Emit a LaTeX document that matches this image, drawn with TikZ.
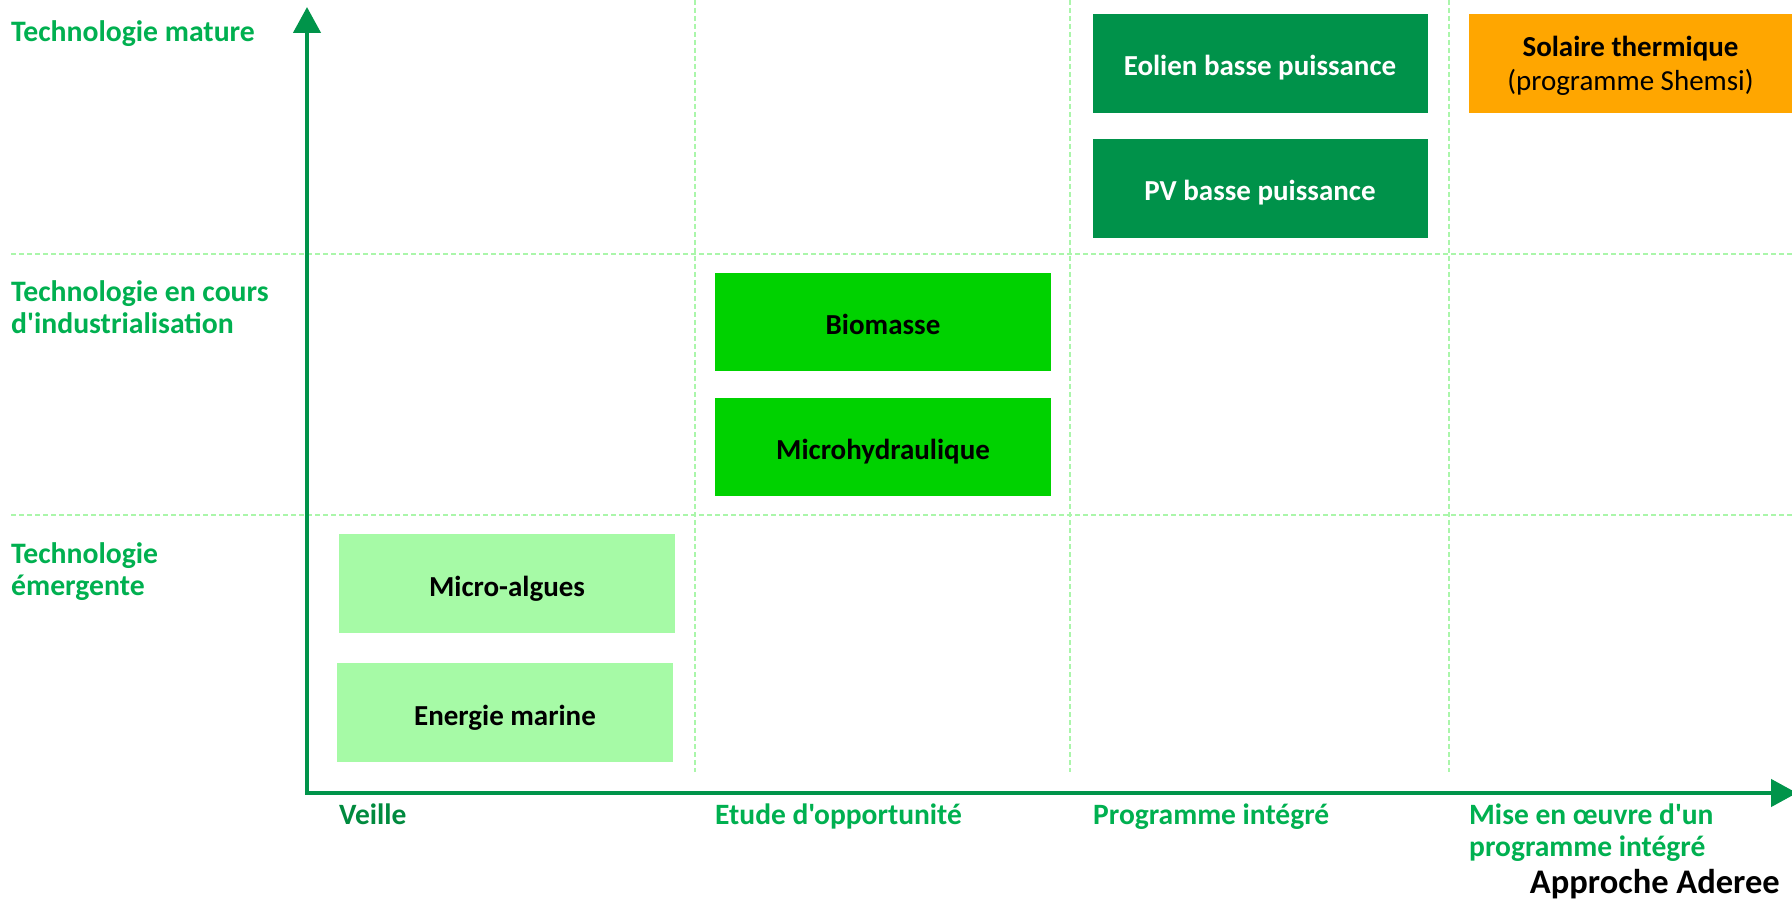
\documentclass[tikz,border=0pt]{standalone}
\usepackage{fontspec}
\setmainfont{Carlito}[Ligatures=TeXOff]
\usetikzlibrary{arrows.meta}
\definecolor{axisgreen}{RGB}{0,148,74}
\definecolor{darkbox}{RGB}{0,146,74}
\definecolor{labelgreen}{RGB}{0,176,80}
\definecolor{veillegreen}{RGB}{0,138,62}
\definecolor{brightbox}{RGB}{0,210,0}
\definecolor{lightbox}{RGB}{166,250,166}
\definecolor{orangebox}{RGB}{255,166,0}
\definecolor{gridgreen}{RGB}{170,246,170}
\tikzset{
  txt/.style={font=\fontsize{29}{32}\selectfont\bfseries},
  box/.style={rectangle, inner sep=0pt, txt, align=center, text height=25pt, text depth=0pt},
  rowlabel/.style={font=\fontsize{29.7}{32}\selectfont\bfseries, text=labelgreen, anchor=base west, inner sep=0pt, align=left},
  collabel/.style={font=\fontsize{29.5}{32}\selectfont\bfseries, text=labelgreen, anchor=base west, inner sep=0pt, align=left},
  grid/.style={draw=gridgreen, line width=1.5pt, dash pattern=on 5pt off 3pt},
  axis/.style={draw=axisgreen, line width=4.5pt, line join=miter,
    {Triangle[length=26pt,width=27pt]}-{Triangle[length=26pt,width=27pt]}}
}
\begin{document}
\begin{tikzpicture}[x=1pt,y=-1pt]
\fill[white] (0,0) rectangle (1792,901);
\useasboundingbox (0,0) rectangle (1792,901);

% grid lines
\draw[grid] (11,254) -- (1792,254);
\draw[grid] (11,515) -- (1792,515);
\draw[grid] (695,0) -- (695,772);
\draw[grid] (1070,0) -- (1070,772);
\draw[grid] (1449,0) -- (1449,772);

% axes
\coordinate (ytop) at (307,7);
\coordinate (origin) at (307,793);
\coordinate (xend) at (1797,793);
\draw[axis] (ytop) -- (origin) -- (xend);

% boxes
\node[box, fill=darkbox, text=white, minimum width=335pt, minimum height=99pt] (eol) at (1260,63.5) {Eolien basse puissance};
\node[box, fill=darkbox, text=white, minimum width=335pt, minimum height=99pt] (pv) at (1260,188.5) {PV basse puissance};
\node[rectangle, inner sep=0pt, fill=orangebox, text=black, align=center, font=\fontsize{29}{33.5}\selectfont, text depth=-4.5pt, minimum width=324pt, minimum height=99pt] (sol) at (1630.5,63.5) {\bfseries Solaire thermique\\(programme Shemsi)};
\node[box, fill=brightbox, text=black, minimum width=336pt, minimum height=98pt] (bio) at (883,322) {Biomasse};
\node[box, fill=brightbox, text=black, minimum width=336pt, minimum height=98pt] (mhy) at (883,447) {Microhydraulique};
\node[box, fill=lightbox, text=black, minimum width=336pt, minimum height=99pt] (alg) at (507,583.5) {Micro-algues};
\node[box, fill=lightbox, text=black, minimum width=336pt, minimum height=99pt] (mar) at (505,712.5) {Energie marine};

% row labels (base anchor = last line)
\node[rowlabel] (r1) at (11,42) {Technologie mature};
\node[rowlabel] (r2) at (11,334) {Technologie en cours\\d'industrialisation};
\node[rowlabel] (r3) at (11,595) {Technologie\\émergente};

% column labels
\node[collabel, text=veillegreen] (c1) at (339,824) {Veille};
\node[collabel] (c2) at (715,824) {Etude d'opportunité};
\node[collabel] (c3) at (1093,824) {Programme intégré};
\node[collabel] (c4) at (1469,856) {Mise en œuvre d'un\\programme intégré};

% title
\node[font=\fontsize{34.5}{38}\selectfont\bfseries, anchor=base east, inner sep=0pt] (title) at (1780,893) {Approche Aderee};
\end{tikzpicture}
\end{document}
